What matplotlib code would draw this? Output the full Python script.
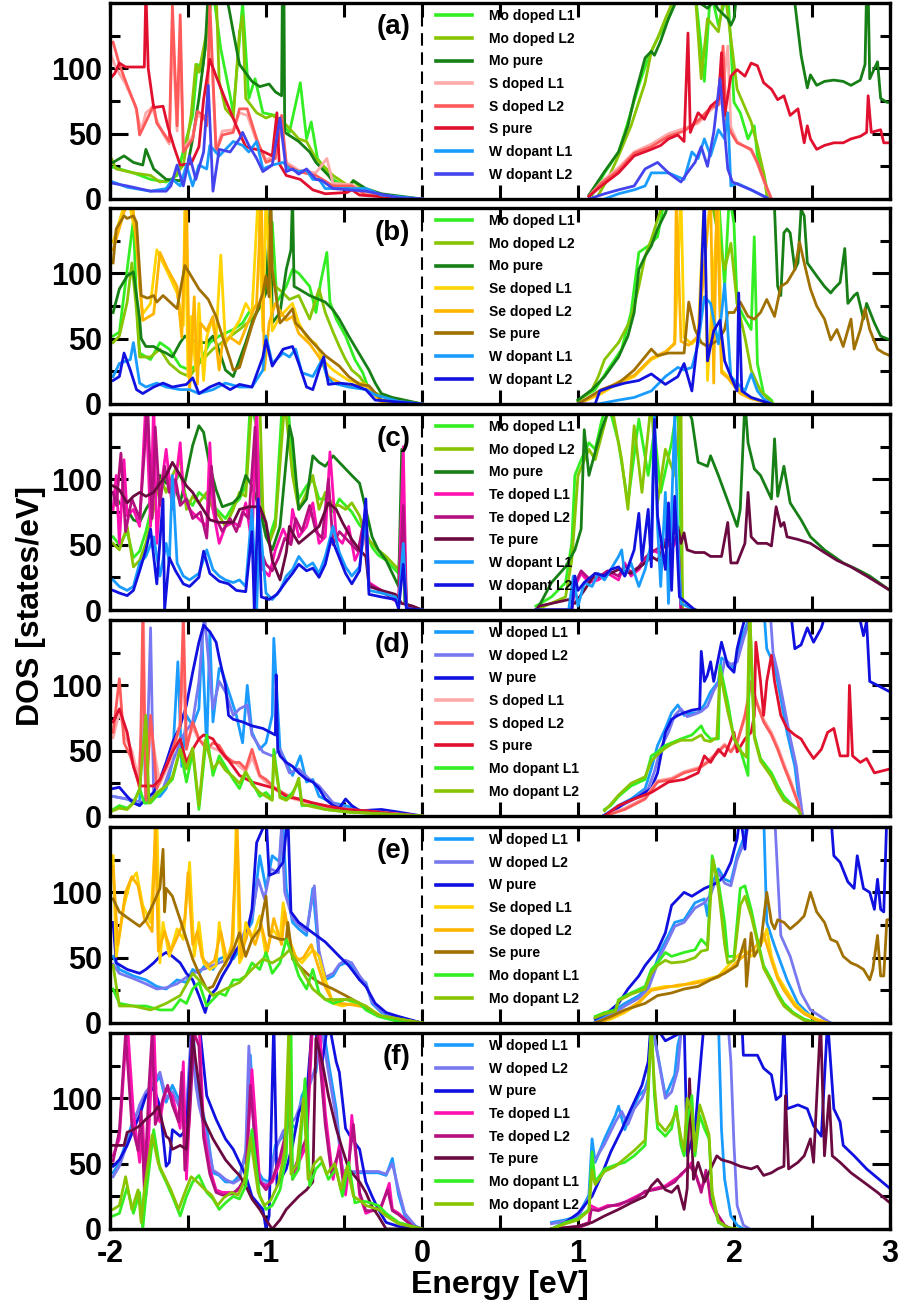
import matplotlib
matplotlib.use("Agg")
import matplotlib.pyplot as plt
import numpy as np
from matplotlib.ticker import MultipleLocator

plt.rcParams['font.family'] = ['Liberation Sans', 'DejaVu Sans']
plt.rcParams['font.weight'] = 'bold'
plt.rcParams['axes.unicode_minus'] = False

# ---------------- data: (energy [eV], DOS [states/eV]) ----------------
# panel (a): MoS2 host, W dopant
a_mo_l1_v = [(-2.0,25),(-1.85,20),(-1.74,15),(-1.64,13),(-1.57,18),(-1.51,46),(-1.47,64),(-1.44,103),(-1.41,97),(-1.37,135),(-1.34,160),(-1.29,115),(-1.23,79),(-1.21,66),(-1.15,150),(-1.11,77),(-1.07,92),(-1.02,66),(-0.94,64),(-0.89,56),(-0.85,51),(-0.78,89),(-0.74,46),(-0.71,59),(-0.67,31),(-0.57,15),(-0.47,8),(-0.44,14),(-0.36,5),(-0.15,1),(0,0)]
a_mo_l1_c = [(1.09,3),(1.17,20),(1.26,36),(1.30,51),(1.34,67),(1.39,87),(1.45,108),(1.51,123),(1.58,138),(1.62,149),(1.66,160),(1.75,160),(1.79,115),(1.81,90),(1.85,160),(1.90,133),(1.96,160),(2.00,74),(2.04,66),(2.09,46),(2.13,56),(2.15,33),(2.19,20),(2.22,2),(2.23,0)]
a_mo_l2_v = [(-2.0,33),(-1.96,23),(-1.85,20),(-1.74,18),(-1.68,13),(-1.60,15),(-1.53,26),(-1.48,64),(-1.45,103),(-1.43,97),(-1.38,128),(-1.35,160),(-1.32,160),(-1.30,90),(-1.26,69),(-1.21,62),(-1.17,128),(-1.15,140),(-1.13,77),(-1.06,66),(-1.0,62),(-0.96,64),(-0.89,59),(-0.85,54),(-0.79,46),(-0.74,44),(-0.68,31),(-0.57,18),(-0.47,10),(-0.44,14),(-0.36,5),(-0.15,1),(0,0)]
a_mo_l2_c = [(1.13,3),(1.19,15),(1.26,33),(1.34,56),(1.43,89),(1.47,113),(1.51,123),(1.56,138),(1.60,149),(1.63,160),(1.75,160),(1.79,92),(1.83,138),(1.90,128),(1.94,160),(1.98,123),(2.02,84),(2.11,59),(2.15,41),(2.19,20),(2.21,3),(2.22,0)]
a_mo_pure_v = [(-1.98,28),(-1.91,33),(-1.85,28),(-1.79,26),(-1.77,38),(-1.72,23),(-1.64,15),(-1.55,14),(-1.51,21),(-1.47,46),(-1.43,77),(-1.39,115),(-1.37,160),(-1.26,160),(-1.23,141),(-1.21,128),(-1.17,103),(-1.09,90),(-1.04,86),(-0.98,88),(-0.94,82),(-0.90,79),(-0.895,160),(-0.885,160),(-0.88,51),(-0.79,44),(-0.72,36),(-0.68,28),(-0.60,18),(-0.55,10),(-0.47,9),(-0.44,14),(-0.36,8),(-0.26,4),(0,0)]
a_mo_pure_c = [(1.07,3),(1.17,21),(1.26,36),(1.32,56),(1.36,77),(1.43,108),(1.47,113),(1.49,110),(1.53,121),(1.58,138),(1.62,149),(1.66,160),(1.83,146),(1.87,151),(1.90,145),(1.96,138),(1.98,133),(2.0,138),(2.02,160),(2.38,160),(2.40,140),(2.43,110),(2.47,85),(2.49,95),(2.53,87),(2.58,90),(2.64,91),(2.70,90),(2.75,87),(2.81,91),(2.84,103),(2.85,160),(2.86,160),(2.87,92),(2.92,105),(2.94,77),(2.98,74),(3.0,74)]
a_s_l1_v = [(-2.0,112),(-1.96,100),(-1.90,88),(-1.84,72),(-1.80,52),(-1.77,66),(-1.73,70),(-1.70,60),(-1.66,50),(-1.62,42),(-1.60,130),(-1.57,52),(-1.55,120),(-1.53,38),(-1.47,48),(-1.44,64),(-1.40,62),(-1.38,58),(-1.36,140),(-1.32,38),(-1.28,52),(-1.21,53),(-1.17,66),(-1.12,64),(-1.06,44),(-1.00,30),(-0.94,33),(-0.90,56),(-0.87,28),(-0.79,22),(-0.68,20),(-0.61,31),(-0.57,12),(-0.45,11),(-0.36,4),(-0.15,1),(0,0)]
a_s_l1_c = [(1.07,2),(1.15,13),(1.26,24),(1.36,36),(1.47,42),(1.58,50),(1.68,54),(1.77,58),(1.85,68),(1.92,74),(1.96,117),(1.98,55),(2.02,44),(2.11,37),(2.15,27),(2.19,14),(2.24,0)]
a_s_l2_v = [(-1.98,120),(-1.94,103),(-1.89,87),(-1.83,69),(-1.81,49),(-1.77,59),(-1.72,72),(-1.70,58),(-1.66,51),(-1.62,44),(-1.60,148),(-1.57,56),(-1.55,141),(-1.53,36),(-1.47,46),(-1.44,67),(-1.40,64),(-1.38,56),(-1.36,150),(-1.32,36),(-1.28,49),(-1.21,51),(-1.17,69),(-1.12,69),(-1.06,46),(-1.00,28),(-0.94,31),(-0.90,64),(-0.87,26),(-0.79,21),(-0.68,18),(-0.57,10),(-0.45,10),(-0.36,3),(-0.15,1),(0,0)]
a_s_l2_c = [(1.07,2),(1.15,12),(1.26,22),(1.36,35),(1.47,40),(1.58,48),(1.68,52),(1.77,60),(1.85,70),(1.90,72),(1.93,117),(1.95,60),(1.98,51),(2.02,43),(2.11,38),(2.15,28),(2.19,15),(2.24,0)]
a_s_pure_v = [(-2.0,92),(-1.97,96),(-1.94,104),(-1.90,101),(-1.85,101),(-1.78,101),(-1.77,160),(-1.755,100),(-1.72,70),(-1.66,71),(-1.63,56),(-1.59,40),(-1.55,26),(-1.48,27),(-1.43,40),(-1.40,76),(-1.36,107),(-1.32,94),(-1.26,76),(-1.19,56),(-1.13,40),(-1.03,37),(-0.96,33),(-0.93,66),(-0.915,27),(-0.87,18),(-0.78,15),(-0.70,7),(-0.62,4),(-0.48,5),(-0.45,7),(-0.40,3),(-0.28,2),(-0.15,1),(0,0)]
a_s_pure_c = [(1.07,2),(1.15,10),(1.26,20),(1.36,33),(1.47,38),(1.53,41),(1.58,46),(1.64,49),(1.68,44),(1.705,127),(1.72,51),(1.77,66),(1.81,61),(1.85,71),(1.90,76),(1.92,112),(1.94,64),(1.98,94),(2.02,99),(2.07,94),(2.11,104),(2.15,102),(2.19,89),(2.24,84),(2.28,76),(2.32,79),(2.36,64),(2.41,69),(2.45,43),(2.47,56),(2.49,46),(2.53,38),(2.58,41),(2.64,43),(2.70,43),(2.75,46),(2.81,48),(2.85,51),(2.86,79),(2.88,51),(2.94,53),(2.96,43),(3.0,43)]
a_w_l1_v = [(-1.98,13),(-1.89,9),(-1.74,6),(-1.64,8),(-1.60,15),(-1.55,10),(-1.51,26),(-1.47,10),(-1.43,26),(-1.38,23),(-1.36,41),(-1.30,33),(-1.21,44),(-1.15,41),(-1.11,36),(-1.06,44),(-1.02,23),(-0.96,26),(-0.89,28),(-0.85,23),(-0.79,21),(-0.74,22),(-0.70,15),(-0.66,15),(-0.62,8),(-0.36,8),(-0.26,3),(0,0)]
a_w_l1_c = [(1.17,0),(1.26,4),(1.36,7),(1.43,10),(1.47,20),(1.58,20),(1.68,15),(1.73,36),(1.77,31),(1.81,46),(1.85,33),(1.90,53),(1.94,46),(1.96,66),(1.98,10),(2.02,12),(2.11,7),(2.21,1),(2.22,0)]
a_w_l2_v = [(-1.98,12),(-1.89,10),(-1.74,6),(-1.64,6),(-1.61,10),(-1.57,26),(-1.53,10),(-1.49,33),(-1.45,15),(-1.40,36),(-1.37,87),(-1.34,6),(-1.30,38),(-1.23,36),(-1.17,46),(-1.15,51),(-1.11,41),(-1.06,31),(-1.02,21),(-0.96,26),(-0.91,62),(-0.87,21),(-0.83,23),(-0.79,19),(-0.74,23),(-0.68,15),(-0.64,14),(-0.57,8),(-0.36,6),(-0.15,1),(0,0)]
a_w_l2_c = [(1.07,0),(1.17,4),(1.26,7),(1.36,10),(1.43,23),(1.51,28),(1.58,20),(1.66,13),(1.70,20),(1.75,28),(1.79,40),(1.83,25),(1.87,51),(1.91,92),(1.94,51),(1.96,23),(1.99,13),(2.11,7),(2.21,1),(2.22,0)]

# panel (b): MoSe2 host, W dopant
b_mo_l1_v = [(-1.98,52),(-1.94,55),(-1.89,103),(-1.85,141),(-1.83,77),(-1.81,39),(-1.74,34),(-1.68,47),(-1.62,42),(-1.55,29),(-1.49,26),(-1.43,31),(-1.36,47),(-1.30,52),(-1.21,57),(-1.15,62),(-1.11,70),(-1.04,77),(-1.0,90),(-0.96,139),(-0.93,78),(-0.87,90),(-0.83,103),(-0.79,100),(-0.72,90),(-0.68,70),(-0.65,93),(-0.61,116),(-0.59,78),(-0.55,65),(-0.49,52),(-0.43,34),(-0.38,24),(-0.34,11),(-0.26,6),(-0.15,3),(0,0)]
b_mo_l1_c = [(1.0,3),(1.11,11),(1.19,26),(1.28,42),(1.34,70),(1.39,116),(1.45,121),(1.51,128),(1.56,160),(1.90,160),(1.94,90),(1.97,160),(2.0,138),(2.02,77),(2.07,65),(2.11,57),(2.13,128),(2.15,31),(2.19,8),(2.24,3),(2.25,0)]
b_mo_l2_v = [(-1.98,47),(-1.94,52),(-1.89,78),(-1.86,108),(-1.83,72),(-1.81,36),(-1.74,36),(-1.68,42),(-1.62,31),(-1.55,24),(-1.49,21),(-1.43,31),(-1.34,42),(-1.26,49),(-1.17,57),(-1.09,65),(-1.02,77),(-0.98,103),(-0.94,90),(-0.89,85),(-0.85,80),(-0.79,83),(-0.72,65),(-0.66,88),(-0.62,70),(-0.57,55),(-0.53,44),(-0.49,34),(-0.45,26),(-0.40,21),(-0.34,11),(-0.26,6),(0,0)]
b_mo_l2_c = [(1.0,2),(1.09,11),(1.13,21),(1.17,34),(1.26,47),(1.34,65),(1.39,90),(1.43,113),(1.47,126),(1.51,141),(1.56,160),(1.85,160),(1.90,128),(1.94,103),(1.98,123),(2.02,77),(2.07,51),(2.11,26),(2.17,10),(2.24,1),(2.25,0)]
b_mo_pure_v = [(-1.98,70),(-1.94,88),(-1.89,98),(-1.85,101),(-1.81,65),(-1.80,50),(-1.77,44),(-1.72,44),(-1.68,41),(-1.64,39),(-1.60,36),(-1.55,47),(-1.52,52),(-1.49,49),(-1.43,47),(-1.38,47),(-1.34,52),(-1.30,41),(-1.26,26),(-1.21,21),(-1.17,34),(-1.13,47),(-1.09,62),(-1.04,75),(-1.0,85),(-0.97,160),(-0.96,62),(-0.91,70),(-0.87,103),(-0.84,118),(-0.83,160),(-0.82,90),(-0.79,88),(-0.72,83),(-0.66,80),(-0.62,78),(-0.57,72),(-0.53,65),(-0.47,52),(-0.43,44),(-0.38,34),(-0.34,26),(-0.30,16),(-0.26,8),(-0.19,5),(-0.15,4),(0,0)]
b_mo_pure_c = [(1.0,3),(1.09,11),(1.17,21),(1.26,36),(1.32,52),(1.36,70),(1.39,103),(1.43,113),(1.47,121),(1.51,134),(1.56,146),(1.60,160),(2.24,160),(2.26,149),(2.28,90),(2.30,83),(2.32,131),(2.34,134),(2.36,131),(2.39,103),(2.41,108),(2.43,149),(2.45,144),(2.47,108),(2.53,98),(2.58,90),(2.62,85),(2.64,88),(2.68,93),(2.71,119),(2.73,77),(2.77,83),(2.79,85),(2.83,65),(2.85,77),(2.90,62),(2.94,52),(3.0,49)]
b_se_l1_v = [(-1.98,124),(-1.94,140),(-1.89,160),(-1.83,128),(-1.81,90),(-1.79,69),(-1.74,77),(-1.70,118),(-1.66,108),(-1.62,98),(-1.57,85),(-1.53,60),(-1.52,160),(-1.50,21),(-1.48,67),(-1.45,26),(-1.43,77),(-1.40,18),(-1.38,51),(-1.35,64),(-1.32,51),(-1.29,114),(-1.26,46),(-1.21,56),(-1.17,64),(-1.13,77),(-1.09,69),(-1.05,160),(-1.02,56),(-1.00,160),(-0.96,56),(-0.91,67),(-0.87,72),(-0.83,77),(-0.79,62),(-0.74,51),(-0.68,46),(-0.63,33),(-0.57,26),(-0.47,18),(-0.36,15),(-0.26,1),(0,0)]
b_se_l1_c = [(1.0,0),(1.15,8),(1.26,16),(1.36,21),(1.47,34),(1.56,39),(1.62,47),(1.66,160),(1.68,51),(1.73,46),(1.77,51),(1.81,160),(1.83,18),(1.90,160),(1.92,26),(1.96,21),(2.0,16),(2.04,10),(2.11,5),(2.21,1),(2.22,0)]
b_se_l2_v = [(-1.98,118),(-1.91,147),(-1.86,160),(-1.82,108),(-1.79,64),(-1.72,69),(-1.68,116),(-1.63,103),(-1.57,90),(-1.54,51),(-1.51,160),(-1.49,10),(-1.46,82),(-1.44,15),(-1.42,62),(-1.38,56),(-1.34,67),(-1.30,26),(-1.28,46),(-1.23,51),(-1.17,46),(-1.11,64),(-1.06,77),(-1.03,160),(-1.01,26),(-0.98,62),(-0.94,77),(-0.87,64),(-0.83,67),(-0.79,54),(-0.72,46),(-0.66,36),(-0.60,21),(-0.51,15),(-0.36,14),(-0.26,2),(0,0)]
b_se_l2_c = [(1.0,0),(1.15,9),(1.26,17),(1.36,22),(1.47,35),(1.56,40),(1.62,46),(1.63,160),(1.66,48),(1.71,45),(1.77,52),(1.85,160),(1.87,16),(1.89,160),(1.92,24),(1.96,20),(2.0,14),(2.04,8),(2.11,4),(2.21,1),(2.22,0)]
b_se_pure_v = [(-1.98,108),(-1.96,134),(-1.91,144),(-1.89,142),(-1.85,144),(-1.83,139),(-1.80,83),(-1.76,81),(-1.72,83),(-1.70,78),(-1.66,83),(-1.57,73),(-1.52,106),(-1.48,98),(-1.43,88),(-1.37,80),(-1.32,67),(-1.28,52),(-1.23,34),(-1.21,26),(-1.17,28),(-1.13,44),(-1.09,60),(-1.02,85),(-1.0,98),(-0.98,82),(-0.97,160),(-0.96,103),(-0.91,62),(-0.87,67),(-0.83,73),(-0.81,62),(-0.77,57),(-0.70,47),(-0.62,37),(-0.53,29),(-0.47,21),(-0.40,15),(-0.34,14),(-0.26,3),(0,0)]
b_se_pure_c = [(1.0,0),(1.04,3),(1.15,11),(1.26,16),(1.36,26),(1.47,42),(1.51,37),(1.58,39),(1.64,39),(1.68,39),(1.71,78),(1.75,57),(1.79,47),(1.83,44),(1.90,49),(1.94,57),(1.96,70),(2.0,70),(2.04,78),(2.09,67),(2.13,65),(2.17,70),(2.21,80),(2.26,67),(2.30,90),(2.34,93),(2.39,103),(2.42,124),(2.45,108),(2.49,88),(2.53,75),(2.58,65),(2.62,49),(2.66,57),(2.70,44),(2.75,65),(2.77,42),(2.81,57),(2.84,73),(2.87,57),(2.92,42),(2.96,39),(3.0,37)]
b_w_l1_v = [(-1.98,21),(-1.94,31),(-1.87,34),(-1.85,47),(-1.81,16),(-1.77,13),(-1.70,16),(-1.64,13),(-1.55,11),(-1.49,11),(-1.43,8),(-1.34,11),(-1.26,16),(-1.17,13),(-1.09,13),(-1.02,26),(-1.0,52),(-0.96,31),(-0.89,39),(-0.85,36),(-0.81,42),(-0.77,24),(-0.70,21),(-0.64,34),(-0.61,21),(-0.57,16),(-0.47,13),(-0.36,11),(-0.30,7),(-0.15,2),(0,0)]
b_w_l1_c = [(1.13,0),(1.26,3),(1.36,5),(1.47,10),(1.56,21),(1.64,28),(1.68,26),(1.73,28),(1.77,46),(1.81,82),(1.85,77),(1.90,46),(1.94,92),(1.98,21),(2.02,16),(2.07,10),(2.11,23),(2.15,10),(2.19,4),(2.24,0)]
b_w_l2_v = [(-1.98,18),(-1.94,21),(-1.91,39),(-1.87,26),(-1.83,11),(-1.79,8),(-1.72,13),(-1.66,16),(-1.60,13),(-1.51,15),(-1.47,20),(-1.43,8),(-1.36,13),(-1.30,16),(-1.23,11),(-1.17,15),(-1.09,13),(-1.02,36),(-1.0,49),(-0.96,29),(-0.89,42),(-0.83,44),(-0.79,31),(-0.74,13),(-0.70,11),(-0.66,26),(-0.63,36),(-0.60,15),(-0.53,16),(-0.45,15),(-0.36,11),(-0.30,3),(0,0)]
b_w_l2_c = [(1.0,0),(1.11,0),(1.14,10),(1.21,13),(1.30,16),(1.39,18),(1.47,23),(1.56,15),(1.64,21),(1.68,31),(1.73,10),(1.78,62),(1.81,160),(1.83,33),(1.87,56),(1.91,64),(1.94,33),(1.98,21),(2.02,10),(2.03,85),(2.05,10),(2.11,5),(2.24,0)]

# panel (c): MoTe2 host, W dopant
c_mo_l1_v = [(-1.98,56),(-1.94,50),(-1.89,60),(-1.85,40),(-1.81,45),(-1.77,60),(-1.72,85),(-1.68,95),(-1.64,100),(-1.60,95),(-1.55,105),(-1.51,85),(-1.47,80),(-1.43,90),(-1.38,85),(-1.34,80),(-1.30,75),(-1.26,70),(-1.21,80),(-1.17,85),(-1.13,95),(-1.10,160),(-1.06,140),(-1.02,70),(-0.98,55),(-0.94,70),(-0.90,150),(-0.86,160),(-0.83,110),(-0.79,85),(-0.74,95),(-0.70,100),(-0.66,85),(-0.62,85),(-0.57,75),(-0.53,85),(-0.49,80),(-0.45,75),(-0.40,65),(-0.36,60),(-0.32,48),(-0.28,42),(-0.23,38),(-0.19,33),(-0.15,28),(-0.12,60),(-0.10,3),(0,0)]
c_mo_l1_c = [(0.73,3),(0.83,10),(0.92,21),(0.96,51),(0.98,103),(1.02,115),(1.07,128),(1.11,123),(1.15,144),(1.19,160),(1.26,128),(1.32,82),(1.39,146),(1.45,103),(1.49,138),(1.53,90),(1.60,128),(1.64,160),(1.67,0),(1.75,0)]
c_mo_l2_v = [(-1.98,51),(-1.94,46),(-1.89,64),(-1.85,33),(-1.81,38),(-1.77,51),(-1.72,77),(-1.68,103),(-1.64,90),(-1.60,103),(-1.55,115),(-1.51,77),(-1.47,87),(-1.43,82),(-1.38,90),(-1.34,77),(-1.30,72),(-1.26,64),(-1.21,77),(-1.17,90),(-1.13,87),(-1.09,160),(-1.04,160),(-1.02,77),(-0.98,51),(-0.94,64),(-0.88,160),(-0.83,103),(-0.79,77),(-0.74,90),(-0.70,103),(-0.66,77),(-0.62,90),(-0.57,80),(-0.53,80),(-0.49,77),(-0.45,82),(-0.40,72),(-0.36,56),(-0.32,51),(-0.28,46),(-0.23,41),(-0.19,36),(-0.15,31),(-0.12,77),(-0.10,3),(0,0)]
c_mo_l2_c = [(0.73,0),(0.92,10),(0.96,38),(1.00,103),(1.07,123),(1.11,115),(1.15,133),(1.21,160),(1.28,115),(1.32,77),(1.36,141),(1.41,90),(1.47,160),(1.51,82),(1.56,123),(1.62,103),(1.66,160),(1.67,0),(1.75,0)]
c_mo_pure_v = [(-1.98,90),(-1.94,82),(-1.89,77),(-1.85,69),(-1.81,67),(-1.77,77),(-1.72,87),(-1.68,103),(-1.64,97),(-1.60,100),(-1.55,82),(-1.51,103),(-1.47,126),(-1.43,141),(-1.40,136),(-1.36,110),(-1.32,92),(-1.28,79),(-1.21,82),(-1.17,87),(-1.13,103),(-1.09,95),(-1.04,77),(-1.0,56),(-0.96,46),(-0.91,64),(-0.87,115),(-0.85,141),(-0.83,131),(-0.79,77),(-0.74,85),(-0.70,118),(-0.66,113),(-0.62,110),(-0.57,118),(-0.53,113),(-0.49,108),(-0.45,103),(-0.40,97),(-0.36,77),(-0.32,56),(-0.28,46),(-0.23,38),(-0.19,28),(-0.15,18),(-0.13,123),(-0.11,5),(0,0)]
c_mo_pure_c = [(0.75,3),(0.83,21),(0.92,33),(0.98,46),(1.02,62),(1.04,138),(1.07,103),(1.11,121),(1.15,138),(1.19,151),(1.21,160),(1.68,160),(1.73,146),(1.77,113),(1.83,110),(1.85,118),(1.90,103),(1.94,90),(1.98,77),(2.02,64),(2.04,77),(2.07,160),(2.09,128),(2.13,108),(2.17,103),(2.24,85),(2.26,131),(2.28,87),(2.32,110),(2.36,82),(2.43,69),(2.49,56),(2.58,46),(2.64,41),(2.70,36),(2.79,31),(2.87,26),(3.0,15)]
c_te_l1_v = [(-1.98,77),(-1.96,103),(-1.94,51),(-1.91,115),(-1.89,72),(-1.85,77),(-1.81,64),(-1.77,160),(-1.74,64),(-1.72,160),(-1.70,51),(-1.68,87),(-1.64,123),(-1.60,77),(-1.55,128),(-1.53,90),(-1.49,77),(-1.45,72),(-1.38,64),(-1.36,128),(-1.34,77),(-1.30,51),(-1.26,64),(-1.21,67),(-1.17,64),(-1.13,82),(-1.09,51),(-1.06,160),(-1.04,64),(-1.02,31),(-0.98,26),(-0.94,46),(-0.89,62),(-0.85,51),(-0.83,77),(-0.79,56),(-0.74,64),(-0.70,82),(-0.66,51),(-0.62,56),(-0.59,121),(-0.55,56),(-0.51,51),(-0.47,64),(-0.43,38),(-0.38,51),(-0.36,77),(-0.34,21),(-0.26,15),(-0.15,5),(-0.12,125),(-0.10,3),(0,0)]
c_te_l1_c = [(0.73,0),(0.96,0),(0.98,18),(1.02,28),(1.07,21),(1.13,23),(1.19,28),(1.26,23),(1.30,36),(1.34,26),(1.39,31),(1.43,38),(1.47,46),(1.51,44),(1.56,54),(1.60,46),(1.64,56),(1.66,0),(1.75,0)]
c_te_l2_v = [(-1.98,90),(-1.96,80),(-1.93,120),(-1.90,60),(-1.86,85),(-1.81,70),(-1.78,120),(-1.76,160),(-1.73,70),(-1.71,140),(-1.68,80),(-1.65,110),(-1.62,90),(-1.58,100),(-1.55,80),(-1.51,85),(-1.47,70),(-1.42,75),(-1.38,55),(-1.35,110),(-1.32,70),(-1.28,60),(-1.23,70),(-1.19,60),(-1.15,75),(-1.11,70),(-1.07,140),(-1.05,50),(-1.0,35),(-0.96,30),(-0.92,40),(-0.88,55),(-0.84,50),(-0.81,70),(-0.77,60),(-0.72,80),(-0.68,60),(-0.64,55),(-0.60,100),(-0.57,50),(-0.53,60),(-0.49,55),(-0.45,50),(-0.41,45),(-0.37,70),(-0.34,20),(-0.26,14),(-0.15,6),(-0.12,80),(-0.10,3),(0,0)]
c_te_l2_c = [(0.73,0),(0.96,0),(0.98,20),(1.02,30),(1.07,24),(1.13,25),(1.19,30),(1.26,26),(1.30,34),(1.34,29),(1.39,33),(1.43,40),(1.47,44),(1.51,47),(1.56,52),(1.60,50),(1.64,58),(1.66,0),(1.75,0)]
c_te_pure_v = [(-1.98,95),(-1.94,92),(-1.89,82),(-1.85,87),(-1.81,90),(-1.77,87),(-1.72,90),(-1.68,97),(-1.64,103),(-1.60,113),(-1.55,103),(-1.51,95),(-1.47,90),(-1.43,82),(-1.36,69),(-1.30,67),(-1.21,67),(-1.17,77),(-1.11,79),(-1.04,79),(-1.0,67),(-0.96,38),(-0.91,23),(-0.87,44),(-0.85,64),(-0.83,59),(-0.79,51),(-0.74,56),(-0.66,64),(-0.60,82),(-0.55,77),(-0.51,67),(-0.45,54),(-0.40,46),(-0.36,41),(-0.34,18),(-0.26,15),(-0.17,12),(-0.13,5),(-0.06,3),(0,0)]
c_te_pure_c = [(0.73,0),(0.75,3),(0.83,5),(0.94,8),(0.98,5),(1.04,15),(1.11,28),(1.17,26),(1.26,31),(1.34,28),(1.43,36),(1.47,41),(1.51,38),(1.56,51),(1.60,56),(1.64,64),(1.66,51),(1.68,59),(1.70,46),(1.75,44),(1.81,44),(1.85,41),(1.92,41),(1.96,67),(1.98,36),(2.02,36),(2.07,51),(2.09,90),(2.11,56),(2.15,51),(2.21,51),(2.24,49),(2.27,79),(2.30,64),(2.32,67),(2.34,56),(2.41,54),(2.49,51),(2.58,44),(2.66,38),(2.75,33),(2.85,26),(3.0,15)]
c_w_l1_v = [(-1.98,23),(-1.94,18),(-1.89,15),(-1.85,18),(-1.81,36),(-1.77,41),(-1.72,56),(-1.68,26),(-1.64,51),(-1.62,36),(-1.60,103),(-1.57,36),(-1.53,26),(-1.49,23),(-1.43,28),(-1.38,46),(-1.34,31),(-1.30,26),(-1.26,23),(-1.21,21),(-1.17,23),(-1.13,18),(-1.09,77),(-1.06,0),(-1.04,69),(-1.0,13),(-0.96,8),(-0.91,15),(-0.87,26),(-0.83,31),(-0.79,41),(-0.74,33),(-0.70,36),(-0.66,28),(-0.62,41),(-0.57,64),(-0.53,44),(-0.49,33),(-0.45,26),(-0.40,33),(-0.36,72),(-0.34,15),(-0.26,13),(-0.17,10),(-0.15,3),(-0.12,51),(-0.10,1),(0,0)]
c_w_l1_c = [(0.73,0),(0.94,0),(0.97,26),(1.0,3),(1.04,21),(1.09,18),(1.13,28),(1.17,23),(1.21,31),(1.26,41),(1.28,46),(1.30,26),(1.34,36),(1.39,18),(1.43,31),(1.47,51),(1.49,149),(1.51,64),(1.53,18),(1.56,90),(1.58,5),(1.60,77),(1.62,149),(1.64,51),(1.66,5),(1.75,0)]
c_w_l2_v = [(-1.98,15),(-1.94,13),(-1.89,11),(-1.85,15),(-1.81,30),(-1.77,46),(-1.74,62),(-1.70,20),(-1.66,85),(-1.65,0),(-1.62,40),(-1.58,30),(-1.53,20),(-1.49,18),(-1.43,25),(-1.40,45),(-1.36,28),(-1.30,22),(-1.24,20),(-1.19,15),(-1.13,14),(-1.09,60),(-1.075,0),(-1.05,85),(-1.03,10),(-0.98,8),(-0.93,12),(-0.87,22),(-0.83,28),(-0.79,35),(-0.74,30),(-0.70,32),(-0.66,25),(-0.62,35),(-0.58,55),(-0.53,40),(-0.49,28),(-0.45,20),(-0.40,30),(-0.36,85),(-0.34,12),(-0.26,10),(-0.17,8),(-0.15,1),(-0.12,35),(-0.10,1),(0,0)]
c_w_l2_c = [(0.73,0),(0.96,0),(0.98,26),(1.0,15),(1.04,21),(1.11,28),(1.17,26),(1.21,31),(1.26,33),(1.30,26),(1.36,46),(1.39,74),(1.41,38),(1.45,77),(1.47,33),(1.49,146),(1.51,72),(1.56,31),(1.58,82),(1.60,15),(1.62,87),(1.65,10),(1.75,0)]

# panel (d): WS2 host, Mo dopant
d_w_l1_v = [(-1.98,15),(-1.89,13),(-1.81,8),(-1.79,103),(-1.77,10),(-1.72,15),(-1.68,15),(-1.64,21),(-1.60,41),(-1.565,118),(-1.54,38),(-1.51,77),(-1.47,69),(-1.43,82),(-1.41,136),(-1.38,51),(-1.36,141),(-1.34,72),(-1.30,113),(-1.28,110),(-1.23,92),(-1.19,77),(-1.15,56),(-1.12,100),(-1.09,64),(-1.04,51),(-1.0,56),(-0.96,77),(-0.95,136),(-0.91,51),(-0.87,41),(-0.83,31),(-0.78,46),(-0.74,26),(-0.70,28),(-0.66,15),(-0.57,10),(-0.49,8),(-0.36,3),(0,0)]
d_w_l1_c = [(1.16,0),(1.26,8),(1.34,13),(1.43,21),(1.47,36),(1.51,54),(1.56,67),(1.60,79),(1.64,85),(1.68,77),(1.73,79),(1.77,79),(1.81,85),(1.85,95),(1.90,103),(1.92,121),(1.96,118),(2.0,113),(2.04,133),(2.09,149),(2.11,160),(2.19,160),(2.21,128),(2.26,115),(2.30,90),(2.34,64),(2.39,38),(2.41,18),(2.43,0)]
d_w_l2_v = [(-1.98,15),(-1.85,12),(-1.77,10),(-1.74,144),(-1.72,15),(-1.66,21),(-1.60,41),(-1.53,62),(-1.47,72),(-1.43,103),(-1.395,154),(-1.34,82),(-1.30,103),(-1.26,95),(-1.21,77),(-1.17,82),(-1.12,85),(-1.09,62),(-1.02,49),(-0.96,46),(-0.91,51),(-0.85,33),(-0.79,36),(-0.72,28),(-0.66,23),(-0.57,10),(-0.47,5),(-0.36,3),(0,0)]
d_w_l2_c = [(1.18,0),(1.28,8),(1.36,13),(1.45,21),(1.49,34),(1.53,52),(1.58,64),(1.62,77),(1.66,82),(1.70,76),(1.75,78),(1.79,80),(1.83,84),(1.87,96),(1.92,106),(1.94,119),(1.98,116),(2.02,118),(2.06,135),(2.10,150),(2.13,160),(2.23,160),(2.25,125),(2.28,110),(2.32,85),(2.36,60),(2.40,38),(2.42,18),(2.44,0)]
d_w_pure_v = [(-1.98,21),(-1.94,22),(-1.89,15),(-1.85,10),(-1.81,8),(-1.77,13),(-1.72,18),(-1.68,28),(-1.64,41),(-1.60,56),(-1.55,69),(-1.51,85),(-1.47,110),(-1.43,133),(-1.40,146),(-1.36,141),(-1.32,133),(-1.30,121),(-1.26,100),(-1.24,77),(-1.21,74),(-1.15,72),(-1.09,69),(-1.02,67),(-0.94,62),(-0.935,108),(-0.925,51),(-0.91,46),(-0.87,41),(-0.83,38),(-0.79,33),(-0.74,28),(-0.70,26),(-0.66,21),(-0.62,13),(-0.57,8),(-0.53,6),(-0.49,13),(-0.45,8),(-0.40,4),(-0.26,5),(-0.15,3),(0,0)]
d_w_pure_c = [(1.16,0),(1.24,5),(1.30,10),(1.39,15),(1.47,21),(1.51,33),(1.56,64),(1.60,74),(1.64,77),(1.68,79),(1.73,81),(1.78,82),(1.79,126),(1.81,103),(1.83,108),(1.85,118),(1.87,103),(1.92,133),(1.96,115),(2.00,110),(2.02,128),(2.04,138),(2.09,160),(2.36,160),(2.39,128),(2.43,131),(2.47,144),(2.51,133),(2.56,144),(2.60,160),(2.79,160),(2.83,138),(2.85,149),(2.87,103),(2.92,100),(3.0,95)]
d_s_l1_v = [(-1.98,60),(-1.94,80),(-1.90,60),(-1.86,50),(-1.82,30),(-1.80,60),(-1.785,150),(-1.77,15),(-1.74,70),(-1.71,45),(-1.68,25),(-1.62,40),(-1.58,55),(-1.55,72),(-1.535,120),(-1.51,55),(-1.47,68),(-1.43,58),(-1.38,54),(-1.34,52),(-1.30,50),(-1.26,44),(-1.21,42),(-1.17,38),(-1.13,34),(-1.09,45),(-1.04,30),(-1.0,26),(-0.94,20),(-0.85,14),(-0.79,12),(-0.70,9),(-0.57,6),(-0.36,3),(0,0)]
d_s_l1_c = [(1.17,0),(1.30,6),(1.43,14),(1.51,27),(1.60,29),(1.68,34),(1.77,37),(1.83,42),(1.90,50),(1.94,55),(1.98,50),(2.02,57),(2.07,75),(2.11,100),(2.15,86),(2.19,74),(2.24,64),(2.28,53),(2.32,40),(2.36,28),(2.41,11),(2.43,0)]
d_s_l2_v = [(-1.98,64),(-1.94,105),(-1.91,56),(-1.87,46),(-1.83,31),(-1.81,21),(-1.80,77),(-1.79,154),(-1.77,10),(-1.74,77),(-1.72,51),(-1.70,21),(-1.64,38),(-1.60,51),(-1.55,69),(-1.53,154),(-1.51,51),(-1.47,72),(-1.43,59),(-1.38,51),(-1.34,56),(-1.30,54),(-1.26,46),(-1.21,41),(-1.17,41),(-1.13,36),(-1.09,51),(-1.04,31),(-1.0,28),(-0.94,21),(-0.85,15),(-0.79,13),(-0.70,10),(-0.57,6),(-0.36,4),(0,0)]
d_s_l2_c = [(1.17,0),(1.30,5),(1.43,13),(1.51,26),(1.60,28),(1.68,33),(1.77,36),(1.83,41),(1.90,49),(1.94,54),(1.98,49),(2.02,56),(2.07,77),(2.11,103),(2.15,85),(2.19,72),(2.24,62),(2.28,51),(2.32,38),(2.36,26),(2.41,10),(2.43,0)]
d_s_pure_v = [(-1.98,72),(-1.94,82),(-1.89,64),(-1.85,38),(-1.81,23),(-1.72,23),(-1.68,28),(-1.64,38),(-1.60,49),(-1.55,59),(-1.51,41),(-1.47,51),(-1.43,59),(-1.40,62),(-1.34,59),(-1.30,51),(-1.23,41),(-1.17,31),(-1.09,26),(-1.0,23),(-0.94,21),(-0.87,15),(-0.79,13),(-0.70,10),(-0.62,8),(-0.49,5),(-0.36,4),(-0.15,1),(0,0)]
d_s_pure_c = [(1.17,0),(1.26,8),(1.36,13),(1.47,18),(1.58,26),(1.68,28),(1.77,33),(1.81,46),(1.85,41),(1.90,51),(1.94,46),(2.0,64),(2.02,49),(2.07,59),(2.11,64),(2.13,77),(2.14,133),(2.17,103),(2.19,77),(2.21,103),(2.24,123),(2.26,103),(2.30,77),(2.34,67),(2.39,62),(2.43,59),(2.47,51),(2.51,44),(2.56,51),(2.60,64),(2.64,67),(2.68,46),(2.73,46),(2.74,100),(2.76,46),(2.81,41),(2.85,44),(2.90,33),(3.0,36)]
d_mo_l1_v = [(-1.98,5),(-1.94,8),(-1.89,6),(-1.85,10),(-1.81,21),(-1.78,10),(-1.74,10),(-1.68,18),(-1.64,23),(-1.60,28),(-1.55,51),(-1.51,26),(-1.47,49),(-1.43,5),(-1.38,62),(-1.34,31),(-1.30,46),(-1.26,38),(-1.21,28),(-1.17,21),(-1.13,33),(-1.09,26),(-1.04,15),(-1.0,18),(-0.96,13),(-0.95,51),(-0.91,15),(-0.87,13),(-0.83,18),(-0.79,26),(-0.77,8),(-0.70,8),(-0.62,5),(-0.47,3),(0,0)]
d_mo_l1_c = [(1.17,5),(1.21,8),(1.26,15),(1.34,23),(1.43,28),(1.47,46),(1.51,49),(1.56,54),(1.60,56),(1.66,59),(1.73,62),(1.79,69),(1.81,64),(1.85,59),(1.90,59),(1.91,115),(1.96,87),(2.0,59),(2.04,51),(2.09,31),(2.10,160),(2.13,62),(2.17,44),(2.24,33),(2.28,23),(2.32,15),(2.36,10),(2.41,5),(2.43,0)]
d_mo_l2_v = [(-1.98,4),(-1.94,6),(-1.89,5),(-1.85,10),(-1.81,20),(-1.77,77),(-1.75,10),(-1.70,18),(-1.64,23),(-1.60,30),(-1.55,51),(-1.51,36),(-1.47,52),(-1.43,8),(-1.39,58),(-1.34,36),(-1.30,42),(-1.26,35),(-1.21,30),(-1.17,25),(-1.13,34),(-1.09,24),(-1.04,18),(-1.0,15),(-0.96,12),(-0.95,46),(-0.91,14),(-0.87,12),(-0.83,16),(-0.79,29),(-0.77,9),(-0.70,7),(-0.62,5),(-0.47,3),(0,0)]
d_mo_l2_c = [(1.17,4),(1.21,9),(1.26,16),(1.34,25),(1.43,30),(1.47,42),(1.51,47),(1.56,52),(1.60,55),(1.66,58),(1.73,58),(1.79,62),(1.81,58),(1.85,57),(1.89,60),(1.91,110),(1.96,80),(2.0,60),(2.04,50),(2.08,45),(2.10,160),(2.13,60),(2.17,42),(2.24,30),(2.28,20),(2.32,12),(2.36,9),(2.41,5),(2.43,0)]

# panel (e): WSe2 host, Mo dopant
e_w_l1_v = [(-1.98,51),(-1.94,41),(-1.85,36),(-1.77,33),(-1.70,28),(-1.64,26),(-1.57,33),(-1.51,31),(-1.47,41),(-1.43,38),(-1.38,46),(-1.34,41),(-1.30,49),(-1.26,51),(-1.21,49),(-1.17,56),(-1.13,69),(-1.09,77),(-1.04,128),(-1.0,103),(-0.96,128),(-0.91,123),(-0.895,160),(-0.87,103),(-0.83,77),(-0.79,72),(-0.74,67),(-0.70,103),(-0.66,51),(-0.62,33),(-0.57,36),(-0.53,44),(-0.49,46),(-0.45,44),(-0.40,33),(-0.36,31),(-0.32,15),(-0.26,8),(-0.15,4),(0,0)]
e_w_l1_c = [(1.11,1),(1.21,8),(1.30,15),(1.39,21),(1.45,28),(1.53,56),(1.58,67),(1.62,77),(1.68,79),(1.75,92),(1.81,95),(1.83,82),(1.85,103),(1.90,118),(1.94,110),(1.98,108),(2.02,128),(2.07,144),(2.09,160),(2.19,160),(2.21,77),(2.26,59),(2.30,46),(2.34,33),(2.41,15),(2.47,8),(2.51,3),(2.62,0)]
e_w_l2_v = [(-1.98,45),(-1.94,38),(-1.85,34),(-1.77,30),(-1.70,26),(-1.64,27),(-1.57,30),(-1.51,35),(-1.47,38),(-1.43,40),(-1.38,42),(-1.34,44),(-1.30,46),(-1.26,48),(-1.21,52),(-1.17,60),(-1.13,72),(-1.09,82),(-1.05,110),(-1.01,95),(-0.97,118),(-0.92,115),(-0.90,150),(-0.88,100),(-0.83,80),(-0.79,75),(-0.74,70),(-0.69,105),(-0.66,55),(-0.62,35),(-0.57,38),(-0.53,45),(-0.49,48),(-0.45,46),(-0.40,36),(-0.36,30),(-0.32,16),(-0.26,9),(-0.15,4),(0,0)]
e_w_l2_c = [(1.11,0),(1.21,6),(1.30,13),(1.39,19),(1.45,26),(1.53,52),(1.58,64),(1.62,74),(1.68,77),(1.75,88),(1.81,92),(1.85,98),(1.90,115),(1.94,107),(1.98,105),(2.02,125),(2.07,140),(2.11,160),(2.26,160),(2.30,67),(2.36,51),(2.43,23),(2.49,10),(2.58,3),(2.62,0)]
e_w_pure_v = [(-1.98,77),(-1.96,46),(-1.89,41),(-1.81,38),(-1.77,41),(-1.72,46),(-1.68,51),(-1.64,54),(-1.60,51),(-1.55,46),(-1.51,38),(-1.47,33),(-1.43,21),(-1.39,8),(-1.36,21),(-1.32,26),(-1.28,36),(-1.23,46),(-1.19,56),(-1.13,64),(-1.09,87),(-1.06,138),(-1.02,149),(-1.0,160),(-0.98,113),(-0.94,115),(-0.89,123),(-0.86,160),(-0.84,85),(-0.79,77),(-0.70,69),(-0.62,62),(-0.53,51),(-0.47,44),(-0.40,33),(-0.36,28),(-0.30,15),(-0.23,8),(-0.15,5),(0,0)]
e_w_pure_c = [(1.11,3),(1.19,8),(1.26,15),(1.32,26),(1.39,36),(1.43,44),(1.51,56),(1.56,69),(1.60,90),(1.64,95),(1.68,100),(1.73,97),(1.77,100),(1.81,103),(1.85,105),(1.90,108),(1.94,113),(1.98,123),(2.02,141),(2.04,160),(2.07,133),(2.09,160),(2.62,160),(2.64,128),(2.68,123),(2.73,108),(2.77,103),(2.79,128),(2.83,103),(2.87,100),(2.90,87),(2.92,110),(2.94,87),(2.96,85),(2.98,160),(3.0,160)]
e_se_l1_v = [(-1.98,128),(-1.96,51),(-1.91,90),(-1.87,108),(-1.83,115),(-1.79,90),(-1.74,77),(-1.70,160),(-1.68,46),(-1.66,77),(-1.62,51),(-1.57,72),(-1.53,64),(-1.49,123),(-1.46,51),(-1.43,77),(-1.40,46),(-1.36,41),(-1.32,44),(-1.30,77),(-1.26,44),(-1.21,64),(-1.19,160),(-1.17,46),(-1.15,51),(-1.13,77),(-1.09,64),(-1.04,82),(-1.0,51),(-0.96,72),(-0.91,64),(-0.89,92),(-0.85,64),(-0.81,51),(-0.77,46),(-0.70,56),(-0.66,51),(-0.62,33),(-0.57,15),(-0.51,13),(-0.45,15),(-0.36,13),(-0.26,5),(0,0)]
e_se_l1_c = [(1.11,0),(1.21,3),(1.30,8),(1.39,15),(1.47,26),(1.56,28),(1.64,28),(1.73,31),(1.81,33),(1.90,36),(1.94,41),(1.98,46),(2.02,51),(2.07,56),(2.11,51),(2.15,56),(2.19,64),(2.21,72),(2.24,51),(2.28,36),(2.32,28),(2.39,15),(2.45,8),(2.53,3),(2.60,0)]
e_se_l2_v = [(-1.98,120),(-1.95,60),(-1.90,100),(-1.86,112),(-1.82,105),(-1.78,80),(-1.73,70),(-1.71,150),(-1.69,55),(-1.65,70),(-1.61,55),(-1.56,68),(-1.52,80),(-1.50,115),(-1.47,60),(-1.44,70),(-1.41,50),(-1.37,44),(-1.33,48),(-1.29,70),(-1.25,48),(-1.22,58),(-1.185,150),(-1.16,50),(-1.14,60),(-1.11,72),(-1.07,60),(-1.03,75),(-0.99,55),(-0.95,80),(-0.90,60),(-0.88,85),(-0.84,58),(-0.80,48),(-0.76,50),(-0.71,60),(-0.67,45),(-0.63,30),(-0.58,18),(-0.52,15),(-0.45,14),(-0.36,12),(-0.26,5),(0,0)]
e_se_l2_c = [(1.11,0),(1.21,4),(1.30,9),(1.39,16),(1.47,25),(1.56,27),(1.64,29),(1.73,30),(1.81,32),(1.90,35),(1.94,39),(1.98,42),(2.02,47),(2.07,52),(2.11,55),(2.15,60),(2.19,68),(2.21,60),(2.24,48),(2.28,34),(2.32,25),(2.39,13),(2.45,7),(2.53,2),(2.60,0)]
e_se_pure_v = [(-1.98,95),(-1.94,85),(-1.87,79),(-1.81,74),(-1.77,79),(-1.72,92),(-1.68,103),(-1.66,133),(-1.65,85),(-1.64,103),(-1.60,97),(-1.55,79),(-1.51,64),(-1.47,49),(-1.43,38),(-1.38,26),(-1.34,28),(-1.30,38),(-1.26,46),(-1.21,56),(-1.17,69),(-1.13,51),(-1.09,64),(-1.04,72),(-1.0,97),(-0.98,67),(-0.91,64),(-0.87,64),(-0.86,77),(-0.83,49),(-0.79,44),(-0.72,36),(-0.66,31),(-0.57,26),(-0.49,21),(-0.40,15),(-0.34,10),(-0.26,5),(0,0)]
e_se_pure_c = [(1.11,0),(1.21,5),(1.30,10),(1.43,15),(1.51,21),(1.60,23),(1.68,26),(1.77,28),(1.85,33),(1.94,38),(2.02,44),(2.07,64),(2.08,28),(2.11,69),(2.13,51),(2.17,59),(2.21,100),(2.24,77),(2.26,72),(2.28,79),(2.32,77),(2.36,72),(2.41,77),(2.45,82),(2.49,100),(2.53,85),(2.58,77),(2.62,64),(2.66,62),(2.70,51),(2.75,46),(2.79,44),(2.83,41),(2.87,33),(2.89,41),(2.92,67),(2.94,36),(2.96,36),(2.98,79),(3.0,79)]
e_mo_l1_v = [(-1.98,26),(-1.94,15),(-1.85,13),(-1.77,13),(-1.68,10),(-1.60,10),(-1.55,18),(-1.51,15),(-1.47,26),(-1.43,31),(-1.38,13),(-1.34,18),(-1.30,23),(-1.26,21),(-1.21,33),(-1.17,33),(-1.13,36),(-1.09,46),(-1.04,41),(-1.0,54),(-0.96,38),(-0.91,46),(-0.87,64),(-0.83,51),(-0.79,36),(-0.74,26),(-0.70,41),(-0.66,23),(-0.62,18),(-0.57,15),(-0.49,18),(-0.40,15),(-0.36,10),(-0.28,5),(-0.15,1),(0,0)]
e_mo_l1_c = [(1.11,5),(1.17,8),(1.24,10),(1.26,18),(1.34,23),(1.43,28),(1.47,41),(1.51,46),(1.56,54),(1.60,51),(1.68,54),(1.75,56),(1.79,64),(1.83,59),(1.86,128),(1.90,108),(1.94,77),(1.96,51),(2.0,51),(2.04,103),(2.07,105),(2.11,87),(2.15,64),(2.19,44),(2.24,33),(2.28,23),(2.32,15),(2.38,8),(2.45,3),(2.53,0)]
e_mo_l2_v = [(-1.98,44),(-1.94,13),(-1.85,13),(-1.74,10),(-1.64,15),(-1.55,21),(-1.47,38),(-1.43,33),(-1.34,21),(-1.26,26),(-1.17,31),(-1.09,41),(-1.02,49),(-0.96,46),(-0.89,51),(-0.85,56),(-0.79,44),(-0.70,26),(-0.62,18),(-0.53,18),(-0.45,18),(-0.36,13),(-0.28,6),(0,0)]
e_mo_l2_c = [(1.11,4),(1.17,7),(1.24,9),(1.26,17),(1.34,22),(1.43,26),(1.47,38),(1.51,44),(1.56,48),(1.60,46),(1.68,47),(1.75,50),(1.79,55),(1.83,56),(1.865,125),(1.90,103),(1.94,60),(1.96,46),(2.0,48),(2.04,90),(2.07,97),(2.11,82),(2.15,62),(2.19,42),(2.24,31),(2.28,21),(2.32,13),(2.38,7),(2.45,2),(2.53,0)]

# panel (f): WTe2 host, Mo dopant
f_w_l1_v = [(-1.98,43),(-1.94,51),(-1.89,69),(-1.85,84),(-1.81,92),(-1.77,102),(-1.72,110),(-1.68,117),(-1.64,97),(-1.60,110),(-1.55,97),(-1.51,87),(-1.47,160),(-1.45,115),(-1.43,102),(-1.38,77),(-1.34,43),(-1.30,41),(-1.26,36),(-1.21,36),(-1.17,41),(-1.13,56),(-1.10,133),(-1.06,46),(-1.02,38),(-0.98,36),(-0.94,64),(-0.89,71),(-0.85,82),(-0.81,77),(-0.77,102),(-0.72,115),(-0.68,120),(-0.64,160),(-0.60,128),(-0.55,92),(-0.51,44),(-0.45,43),(-0.36,43),(-0.28,43),(-0.23,41),(-0.19,54),(-0.15,26),(-0.11,10),(-0.04,2),(0,0)]
f_w_l1_c = [(0.83,5),(0.92,7),(1.0,10),(1.07,26),(1.09,69),(1.11,51),(1.17,69),(1.24,87),(1.26,94),(1.30,76),(1.34,89),(1.39,102),(1.43,107),(1.45,115),(1.47,160),(1.56,102),(1.58,107),(1.62,118),(1.64,141),(1.68,160),(1.90,160),(1.92,76),(1.94,38),(1.98,10),(2.02,3),(2.06,0)]
f_w_l2_v = [(-1.98,40),(-1.94,48),(-1.89,65),(-1.85,80),(-1.81,95),(-1.77,105),(-1.72,112),(-1.68,120),(-1.64,100),(-1.60,105),(-1.55,92),(-1.51,90),(-1.48,150),(-1.45,110),(-1.43,95),(-1.38,70),(-1.34,45),(-1.30,42),(-1.26,38),(-1.21,35),(-1.17,38),(-1.13,60),(-1.11,140),(-1.06,42),(-1.02,35),(-0.98,34),(-0.94,60),(-0.89,75),(-0.85,80),(-0.81,85),(-0.77,98),(-0.72,110),(-0.68,125),(-0.64,150),(-0.60,120),(-0.55,85),(-0.51,45),(-0.45,44),(-0.36,44),(-0.28,44),(-0.23,42),(-0.19,50),(-0.15,30),(-0.11,12),(-0.04,2),(0,0)]
f_w_l2_c = [(0.83,4),(0.92,6),(1.0,9),(1.07,24),(1.09,50),(1.12,55),(1.17,65),(1.24,82),(1.28,90),(1.32,80),(1.36,92),(1.41,100),(1.45,112),(1.47,160),(1.56,100),(1.60,105),(1.64,122),(1.66,150),(1.70,160),(1.96,160),(1.98,128),(2.0,64),(2.02,18),(2.06,3),(2.10,0)]
f_w_pure_v = [(-1.98,48),(-1.94,53),(-1.89,64),(-1.85,76),(-1.81,87),(-1.77,102),(-1.72,108),(-1.68,94),(-1.64,48),(-1.62,51),(-1.60,76),(-1.55,71),(-1.51,76),(-1.47,160),(-1.43,160),(-1.38,102),(-1.32,84),(-1.26,69),(-1.21,61),(-1.17,51),(-1.13,41),(-1.09,25),(-1.02,15),(-1.0,0),(-0.98,10),(-0.95,160),(-0.93,33),(-0.87,46),(-0.83,64),(-0.79,89),(-0.74,102),(-0.70,160),(-0.64,128),(-0.60,160),(-0.55,128),(-0.53,120),(-0.49,77),(-0.45,69),(-0.40,61),(-0.36,36),(-0.32,25),(-0.28,15),(-0.23,5),(-0.15,2),(0,0)]
f_w_pure_c = [(0.83,0),(0.92,5),(1.0,12),(1.09,25),(1.15,41),(1.21,59),(1.28,76),(1.34,92),(1.41,110),(1.45,128),(1.47,160),(1.56,144),(1.64,149),(1.66,160),(1.68,160),(1.70,56),(1.75,76),(1.79,133),(1.81,160),(2.05,160),(2.06,133),(2.15,133),(2.17,128),(2.19,123),(2.24,118),(2.27,99),(2.30,102),(2.32,160),(2.34,92),(2.41,95),(2.47,92),(2.51,79),(2.56,71),(2.60,160),(2.64,92),(2.68,82),(2.70,64),(2.77,56),(2.85,46),(3.0,31)]
f_te_l1_v = [(-1.98,56),(-1.94,69),(-1.89,160),(-1.85,89),(-1.81,51),(-1.79,82),(-1.77,25),(-1.74,102),(-1.72,160),(-1.70,89),(-1.68,82),(-1.66,97),(-1.64,107),(-1.60,102),(-1.55,77),(-1.53,128),(-1.51,38),(-1.49,89),(-1.47,160),(-1.43,160),(-1.40,77),(-1.36,46),(-1.32,30),(-1.28,28),(-1.21,28),(-1.17,30),(-1.13,38),(-1.09,122),(-1.04,36),(-1.0,33),(-0.96,36),(-0.91,51),(-0.87,69),(-0.85,102),(-0.83,38),(-0.79,51),(-0.74,64),(-0.70,160),(-0.66,160),(-0.62,89),(-0.57,38),(-0.53,64),(-0.49,26),(-0.47,46),(-0.45,87),(-0.40,26),(-0.36,12),(-0.30,15),(-0.26,17),(-0.21,35),(-0.19,15),(-0.15,12),(-0.06,2),(0,0)]
f_te_l1_c = [(0.83,0),(1.0,2),(1.07,5),(1.08,18),(1.13,15),(1.19,18),(1.26,18),(1.34,23),(1.39,26),(1.43,28),(1.49,31),(1.56,33),(1.62,38),(1.66,41),(1.73,51),(1.77,36),(1.79,31),(1.83,41),(1.85,20),(1.89,10),(1.94,2),(1.98,0)]
f_te_l2_v = [(-1.98,52),(-1.94,75),(-1.90,150),(-1.86,80),(-1.82,60),(-1.80,90),(-1.78,30),(-1.75,110),(-1.73,150),(-1.71,80),(-1.68,90),(-1.66,100),(-1.63,110),(-1.60,95),(-1.56,82),(-1.54,120),(-1.52,45),(-1.49,85),(-1.46,150),(-1.43,140),(-1.40,70),(-1.36,42),(-1.32,28),(-1.28,26),(-1.21,27),(-1.17,32),(-1.13,40),(-1.10,110),(-1.05,38),(-1.0,30),(-0.96,38),(-0.91,55),(-0.87,75),(-0.855,95),(-0.83,42),(-0.79,55),(-0.74,70),(-0.71,150),(-0.67,150),(-0.62,80),(-0.58,42),(-0.53,60),(-0.50,30),(-0.47,50),(-0.44,80),(-0.40,28),(-0.36,14),(-0.30,14),(-0.26,18),(-0.22,30),(-0.19,14),(-0.15,11),(-0.06,2),(0,0)]
f_te_l2_c = [(0.83,0),(1.0,1),(1.07,4),(1.085,15),(1.13,14),(1.19,17),(1.26,19),(1.34,22),(1.39,25),(1.43,29),(1.49,30),(1.56,32),(1.62,36),(1.66,42),(1.72,48),(1.76,40),(1.79,28),(1.82,45),(1.85,25),(1.89,12),(1.94,3),(1.98,0)]
f_te_pure_v = [(-1.98,64),(-1.91,64),(-1.89,74),(-1.85,76),(-1.81,79),(-1.77,84),(-1.72,89),(-1.69,94),(-1.66,79),(-1.64,71),(-1.62,69),(-1.60,61),(-1.55,64),(-1.51,61),(-1.47,148),(-1.45,128),(-1.40,84),(-1.34,69),(-1.26,53),(-1.21,46),(-1.17,41),(-1.13,33),(-1.09,23),(-1.04,15),(-1.0,7),(-0.96,0),(-0.91,7),(-0.87,15),(-0.83,20),(-0.79,25),(-0.74,30),(-0.70,36),(-0.68,146),(-0.64,128),(-0.60,102),(-0.55,77),(-0.51,61),(-0.47,46),(-0.40,36),(-0.36,28),(-0.32,17),(-0.28,10),(-0.23,0),(0,0)]
f_te_pure_c = [(0.83,0),(1.0,2),(1.09,5),(1.17,10),(1.26,15),(1.34,20),(1.43,25),(1.47,33),(1.51,38),(1.56,30),(1.60,28),(1.64,33),(1.68,15),(1.70,31),(1.715,115),(1.74,38),(1.77,51),(1.81,36),(1.85,46),(1.89,56),(1.92,53),(1.98,51),(2.04,48),(2.11,46),(2.15,48),(2.19,41),(2.24,43),(2.28,46),(2.32,48),(2.33,102),(2.35,46),(2.41,51),(2.45,56),(2.49,69),(2.51,51),(2.555,160),(2.58,56),(2.61,102),(2.63,56),(2.68,51),(2.75,43),(2.83,36),(2.92,28),(3.0,20)]
f_mo_l1_v = [(-1.98,10),(-1.94,12),(-1.89,32),(-1.85,12),(-1.81,28),(-1.79,0),(-1.77,25),(-1.72,76),(-1.68,46),(-1.64,36),(-1.60,25),(-1.55,10),(-1.51,25),(-1.47,36),(-1.43,41),(-1.38,28),(-1.34,23),(-1.30,15),(-1.26,20),(-1.21,25),(-1.17,23),(-1.13,33),(-1.09,76),(-1.04,25),(-1.0,15),(-0.96,18),(-0.91,30),(-0.87,56),(-0.84,160),(-0.83,38),(-0.79,46),(-0.75,115),(-0.72,33),(-0.68,46),(-0.64,51),(-0.60,38),(-0.55,46),(-0.51,25),(-0.47,51),(-0.43,20),(-0.40,21),(-0.36,21),(-0.28,18),(-0.23,12),(-0.15,5),(0,0)]
f_mo_l1_c = [(0.83,0),(0.92,5),(1.0,8),(1.07,15),(1.09,59),(1.11,36),(1.17,46),(1.24,49),(1.30,51),(1.36,56),(1.43,64),(1.45,102),(1.47,160),(1.49,102),(1.51,77),(1.56,71),(1.60,77),(1.63,94),(1.66,64),(1.68,56),(1.70,82),(1.73,102),(1.75,56),(1.78,87),(1.81,77),(1.84,69),(1.86,25),(1.90,5),(1.96,1),(2.02,0)]
f_mo_l2_v = [(-1.98,15),(-1.94,18),(-1.90,40),(-1.86,15),(-1.82,30),(-1.80,5),(-1.78,30),(-1.73,72),(-1.69,50),(-1.65,40),(-1.61,30),(-1.56,15),(-1.52,28),(-1.48,40),(-1.44,36),(-1.39,30),(-1.35,26),(-1.31,18),(-1.27,24),(-1.22,28),(-1.18,26),(-1.14,36),(-1.10,70),(-1.05,28),(-1.01,18),(-0.97,22),(-0.92,35),(-0.88,60),(-0.855,150),(-0.84,42),(-0.80,50),(-0.76,100),(-0.73,38),(-0.69,50),(-0.65,55),(-0.61,42),(-0.56,50),(-0.52,30),(-0.48,48),(-0.44,25),(-0.40,22),(-0.36,18),(-0.28,15),(-0.23,10),(-0.15,4),(0,0)]
f_mo_l2_c = [(0.83,0),(0.92,4),(1.0,7),(1.07,14),(1.09,45),(1.11,34),(1.17,44),(1.24,48),(1.30,54),(1.36,60),(1.43,68),(1.45,110),(1.47,150),(1.49,110),(1.51,82),(1.56,75),(1.60,82),(1.63,90),(1.66,70),(1.68,60),(1.70,100),(1.73,90),(1.75,60),(1.78,95),(1.81,84),(1.84,72),(1.86,28),(1.90,6),(1.96,1),(2.02,0)]

panel_tags = ['(a)', '(b)', '(c)', '(d)', '(e)', '(f)']
labels_mo_host = ['Mo doped L1', 'Mo doped L2', 'Mo pure', '{x} doped L1', '{x} doped L2', '{x} pure', 'W dopant L1', 'W dopant L2']
labels_w_host = ['W doped L1', 'W doped L2', 'W pure', '{x} doped L1', '{x} doped L2', '{x} pure', 'Mo dopant L1', 'Mo dopant L2']
chalcogens = ['S', 'Se', 'Te', 'S', 'Se', 'Te']

panel_data = [
    [(a_mo_l1_v, a_mo_l1_c), (a_mo_l2_v, a_mo_l2_c), (a_mo_pure_v, a_mo_pure_c), (a_s_l1_v, a_s_l1_c), (a_s_l2_v, a_s_l2_c), (a_s_pure_v, a_s_pure_c), (a_w_l1_v, a_w_l1_c), (a_w_l2_v, a_w_l2_c)],
    [(b_mo_l1_v, b_mo_l1_c), (b_mo_l2_v, b_mo_l2_c), (b_mo_pure_v, b_mo_pure_c), (b_se_l1_v, b_se_l1_c), (b_se_l2_v, b_se_l2_c), (b_se_pure_v, b_se_pure_c), (b_w_l1_v, b_w_l1_c), (b_w_l2_v, b_w_l2_c)],
    [(c_mo_l1_v, c_mo_l1_c), (c_mo_l2_v, c_mo_l2_c), (c_mo_pure_v, c_mo_pure_c), (c_te_l1_v, c_te_l1_c), (c_te_l2_v, c_te_l2_c), (c_te_pure_v, c_te_pure_c), (c_w_l1_v, c_w_l1_c), (c_w_l2_v, c_w_l2_c)],
    [(d_w_l1_v, d_w_l1_c), (d_w_l2_v, d_w_l2_c), (d_w_pure_v, d_w_pure_c), (d_s_l1_v, d_s_l1_c), (d_s_l2_v, d_s_l2_c), (d_s_pure_v, d_s_pure_c), (d_mo_l1_v, d_mo_l1_c), (d_mo_l2_v, d_mo_l2_c)],
    [(e_w_l1_v, e_w_l1_c), (e_w_l2_v, e_w_l2_c), (e_w_pure_v, e_w_pure_c), (e_se_l1_v, e_se_l1_c), (e_se_l2_v, e_se_l2_c), (e_se_pure_v, e_se_pure_c), (e_mo_l1_v, e_mo_l1_c), (e_mo_l2_v, e_mo_l2_c)],
    [(f_w_l1_v, f_w_l1_c), (f_w_l2_v, f_w_l2_c), (f_w_pure_v, f_w_pure_c), (f_te_l1_v, f_te_l1_c), (f_te_l2_v, f_te_l2_c), (f_te_pure_v, f_te_pure_c), (f_mo_l1_v, f_mo_l1_c), (f_mo_l2_v, f_mo_l2_c)],
]

# ---------------- colours ----------------
mo_cols = ['#33ee22', '#88c400', '#167f16']
w_cols = ['#1a9cff', '#7878f0', '#1010e0']
chalc_cols = {'S': ['#ffaaaa', '#ff5a5a', '#e0102e'],
              'Se': ['#ffd400', '#ffb400', '#a07000'],
              'Te': ['#ff10b0', '#b41080', '#6a0a40']}
dopant_w_cols = [['#1a9cff', '#4444ee'], ['#1a9cff', '#1212e0'], ['#1a9cff', '#1212e0']]


def joined(v, c):
    # valence and conduction parts, split by a NaN gap
    v = np.array(v, dtype=float)
    c = np.array(c, dtype=float)
    gap = np.full((1, 2), np.nan)
    return np.vstack([v, gap, c])


fig = plt.figure(figsize=(8.99, 13.09), dpi=100)
H = 1309.0
W = 899.0
tops = [3, 208, 414, 620, 827, 1033]
ph = 196

for i in range(6):
    ax = fig.add_axes([110 / W, 1 - (tops[i] + ph) / H, 780 / W, ph / H])
    x = chalcogens[i]
    if i < 3:
        labels = [s.format(x=x) for s in labels_mo_host]
        cols = mo_cols + chalc_cols[x] + dopant_w_cols[i]
    else:
        labels = [s.format(x=x) for s in labels_w_host]
        cols = w_cols + chalc_cols[x] + mo_cols[:2]
    for k, (v, c) in enumerate(panel_data[i]):
        xy = joined(v, c)
        ax.plot(xy[:, 0], xy[:, 1], color=cols[k], lw=2.0, label=labels[k])

    ax.axvline(0, color='k', lw=1.5, ls=(0, (6, 3.2)), zorder=0)
    ax.set_xlim(-2, 3)
    ax.set_ylim(0, 150)
    ax.set_yticks([0, 50, 100])
    ax.yaxis.set_minor_locator(MultipleLocator(25))
    ax.set_xticks([-2, -1, 0, 1, 2, 3])
    ax.xaxis.set_minor_locator(MultipleLocator(0.5))
    ax.tick_params(which='both', direction='in', top=True, right=True, width=2.2,
                   labelsize=22, pad=6)
    ax.tick_params(axis='x', which='both', length=10, pad=7)
    ax.tick_params(axis='y', which='major', length=13)
    ax.tick_params(axis='y', which='minor', length=7)
    for lab in ax.get_xticklabels() + ax.get_yticklabels():
        lab.set_fontweight('bold')
    if i < 5:
        ax.tick_params(axis='x', labelbottom=False)
    for s in ax.spines.values():
        s.set_linewidth(2.4)

    ax.text(0.385, 0.875, panel_tags[i], transform=ax.transAxes, ha='right', va='center',
            fontsize=20, fontweight='bold')
    leg = ax.legend(loc='upper left', bbox_to_anchor=(0.41, 1.0), frameon=False,
                    fontsize=10, handlelength=2.6, handletextpad=1.2, labelspacing=0.62,
                    borderaxespad=0.3, borderpad=0.15)
    for t in leg.get_texts():
        t.set_fontweight('bold')
    for l in leg.get_lines():
        l.set_linewidth(2.6)

fig.text(0.034, 1 - 606 / H, 'DOS [states/eV]', rotation=90, ha='center', va='center',
         fontsize=23, fontweight='bold')
fig.text(500 / W, 1 - 1285 / H, 'Energy [eV]', ha='center', va='center',
         fontsize=23, fontweight='bold')

fig.savefig('out.png', dpi=100)
